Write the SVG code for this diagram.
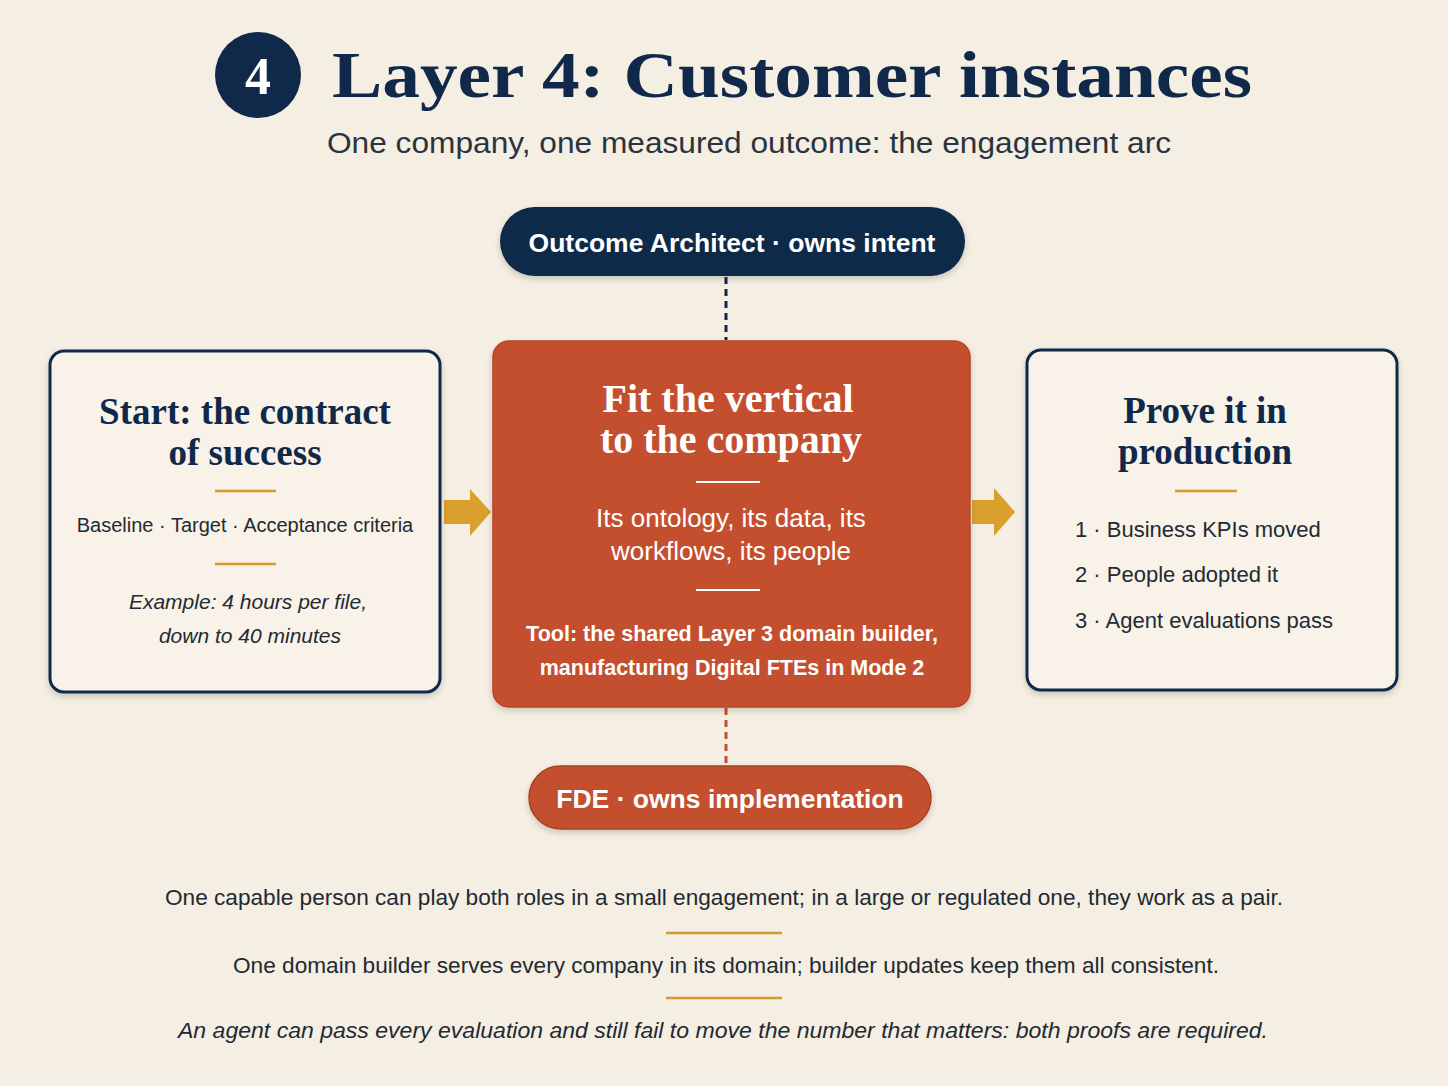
<svg xmlns="http://www.w3.org/2000/svg" width="1448" height="1086" viewBox="0 0 1448 1086">
<defs>
<style>
.serif{font-family:"Liberation Serif","DejaVu Serif",serif;font-weight:bold}
.sans{font-family:"Liberation Sans","Noto Sans",sans-serif}
.navy{fill:#10294a}
.white{fill:#ffffff}
.body{fill:#222a33}
.card{fill:#f8f2e8;stroke:#10294a;stroke-width:3}
.gold{stroke:#d39a2c;stroke-width:2.5}
.wl{stroke:#ffffff;stroke-width:2}
.arrow{fill:#d9a02e}
</style>
<filter id="sh" x="-10%" y="-10%" width="120%" height="130%">
<feDropShadow dx="0" dy="3" stdDeviation="3" flood-color="#000" flood-opacity="0.18"/>
</filter>
</defs>
<rect width="1448" height="1086" fill="#f5eee2"/>

<g id="title">
<circle cx="258" cy="75" r="43" fill="#10294a"/>
<text x="258" y="94" text-anchor="middle" class="serif white" font-size="52">4</text>
<text x="332" y="97" class="serif navy" font-size="66" textLength="920" lengthAdjust="spacingAndGlyphs">Layer 4: Customer instances</text>
<text x="749" y="153" text-anchor="middle" class="sans" fill="#2a3340" font-size="30" textLength="844" lengthAdjust="spacingAndGlyphs">One company, one measured outcome: the engagement arc</text>
</g>

<g id="connectors">
<line x1="726" y1="277" x2="726" y2="340" stroke="#10294a" stroke-width="3" stroke-dasharray="7 5"/>
<line x1="726" y1="708" x2="726" y2="765" stroke="#c4502e" stroke-width="3" stroke-dasharray="7 5"/>
<path class="arrow" d="M444 500 H470 V489 L491 512 L470 536 V524 H444 Z"/>
<path class="arrow" d="M972 500 H994 V488 L1015 512 L994 536 V524 H972 Z"/>
</g>

<g id="outcome-architect">
<rect x="500" y="207" width="465" height="69" rx="34.5" fill="#10294a" filter="url(#sh)"/>
<text x="732" y="252" text-anchor="middle" class="sans white" font-size="26.5" font-weight="bold">Outcome Architect · owns intent</text>
</g>

<g id="start">
<rect x="50" y="351" width="390" height="341" rx="14" class="card" filter="url(#sh)"/>
<text x="245" y="424" text-anchor="middle" class="serif navy" font-size="37">Start: the contract</text>
<text x="245" y="465" text-anchor="middle" class="serif navy" font-size="37">of success</text>
<line x1="215" y1="491" x2="276" y2="491" class="gold"/>
<text x="245" y="532" text-anchor="middle" class="sans body" font-size="20">Baseline · Target · Acceptance criteria</text>
<line x1="215" y1="564" x2="276" y2="564" class="gold"/>
<text x="248" y="609" text-anchor="middle" class="sans body" font-size="21" font-style="italic">Example: 4 hours per file,</text>
<text x="250" y="643" text-anchor="middle" class="sans body" font-size="21" font-style="italic">down to 40 minutes</text>
</g>

<g id="fit">
<rect x="493" y="341" width="477" height="366" rx="16" fill="#c4502e" stroke="#b54526" stroke-width="1.5" filter="url(#sh)"/>
<text x="728" y="412" text-anchor="middle" class="serif white" font-size="40">Fit the vertical</text>
<text x="731" y="453" text-anchor="middle" class="serif white" font-size="40">to the company</text>
<line x1="696" y1="482" x2="760" y2="482" class="wl"/>
<text x="731" y="527" text-anchor="middle" class="sans white" font-size="26">Its ontology, its data, its</text>
<text x="731" y="560" text-anchor="middle" class="sans white" font-size="26">workflows, its people</text>
<line x1="696" y1="590" x2="760" y2="590" class="wl"/>
<text x="732" y="641" text-anchor="middle" class="sans white" font-size="21.5" font-weight="bold">Tool: the shared Layer 3 domain builder,</text>
<text x="732" y="675" text-anchor="middle" class="sans white" font-size="21.5" font-weight="bold">manufacturing Digital FTEs in Mode 2</text>
</g>

<g id="prove">
<rect x="1027" y="350" width="370" height="340" rx="14" class="card" filter="url(#sh)"/>
<text x="1205" y="423" text-anchor="middle" class="serif navy" font-size="37">Prove it in</text>
<text x="1205" y="464" text-anchor="middle" class="serif navy" font-size="37">production</text>
<line x1="1175" y1="491" x2="1237" y2="491" class="gold"/>
<text x="1075" y="537" class="sans body" font-size="22">1 · Business KPIs moved</text>
<text x="1075" y="582" class="sans body" font-size="22">2 · People adopted it</text>
<text x="1075" y="628" class="sans body" font-size="22">3 · Agent evaluations pass</text>
</g>

<g id="fde">
<rect x="529" y="766" width="402" height="63" rx="31.5" fill="#c4502e" stroke="#a9401f" stroke-width="1.5" filter="url(#sh)"/>
<text x="730" y="808" text-anchor="middle" class="sans white" font-size="26.5" font-weight="bold">FDE · owns implementation</text>
</g>

<g id="footer">
<text x="724" y="905" text-anchor="middle" class="sans body" font-size="22" textLength="1118" lengthAdjust="spacingAndGlyphs">One capable person can play both roles in a small engagement; in a large or regulated one, they work as a pair.</text>
<line x1="666" y1="933" x2="782" y2="933" class="gold"/>
<text x="726" y="973" text-anchor="middle" class="sans body" font-size="22" textLength="986" lengthAdjust="spacingAndGlyphs">One domain builder serves every company in its domain; builder updates keep them all consistent.</text>
<line x1="666" y1="998" x2="782" y2="998" class="gold"/>
<text x="723" y="1038" text-anchor="middle" class="sans body" font-size="22" font-style="italic" textLength="1090" lengthAdjust="spacingAndGlyphs">An agent can pass every evaluation and still fail to move the number that matters: both proofs are required.</text>
</g>
</svg>
